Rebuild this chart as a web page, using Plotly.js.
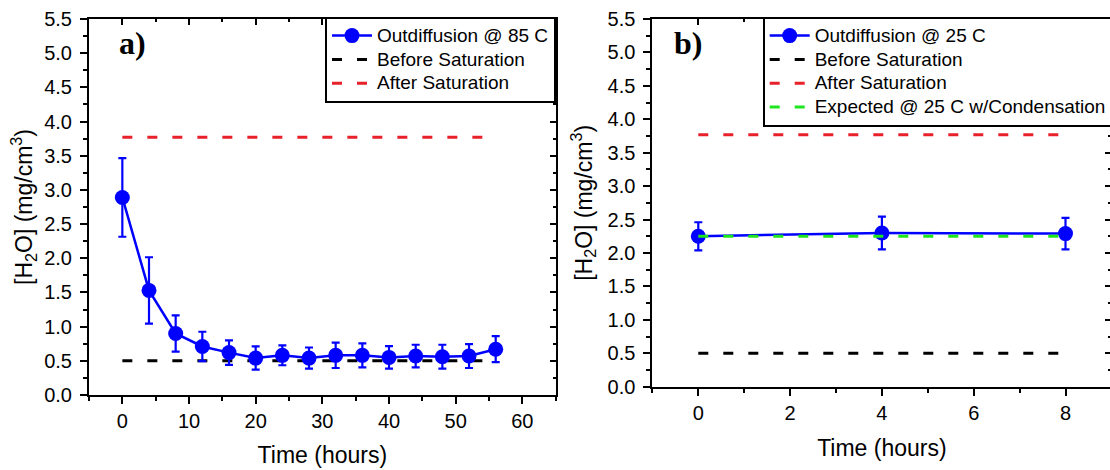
<!DOCTYPE html>
<html><head><meta charset="utf-8">
<script src="https://cdn.plot.ly/plotly-3.0.1.min.js"></script>
<style>html,body{margin:0;padding:0;overflow:hidden;background:#fff}#chart{width:1114px;height:470px}</style>
</head><body><div id="chart"></div>
<script>
// ---- data (panel a: outdiffusion at 85 C) ----
const timeA = [0, 4, 8, 12, 16, 20, 24, 28, 32, 36, 40, 44, 48, 52, 56];
const h2oA  = [2.89, 1.53, 0.90, 0.71, 0.62, 0.54, 0.58, 0.54, 0.58, 0.58, 0.55, 0.57, 0.56, 0.57, 0.67];
const errA  = [0.575, 0.485, 0.265, 0.215, 0.18, 0.17, 0.145, 0.155, 0.185, 0.175, 0.165, 0.165, 0.175, 0.175, 0.19];
const refTimeA = [0, 56];
// ---- data (panel b: outdiffusion at 25 C) ----
const timeB = [0, 4, 8];
const h2oB  = [2.25, 2.30, 2.29];
const errB  = [0.21, 0.245, 0.235];
const refTimeB = [0, 8];
// ---- reference levels ----
const beforeSat = [0.5, 0.5];
const afterSat  = [3.77, 3.77];
const expected25 = [2.25, 2.25];
const labelsA = {main: 'Outdiffusion @ 85 C', before: 'Before Saturation', after: 'After Saturation'};
const labelsB = {main: 'Outdiffusion @ 25 C', before: 'Before Saturation', after: 'After Saturation', exp: 'Expected @ 25 C w/Condensation'};
const yTitle = '[H<sub>2</sub>O] (mg/cm<sup>3</sup>)';
const xTitle = 'Time (hours)';

const W = 1114, H = 470;
const px = v => v / W, py = v => 1 - v / H;
const FONT = '"Liberation Sans", Arial, sans-serif';
const BLUE = '#0000ff', RED = '#e8202a', GREEN = '#1ee61e';
const DASH = '10px,15px';
const legName = s => '<span style="font-size:19px">' + s + '</span>';

function dashTrace(x, y, color, name, xa, ya, leg, rank) {
  return {x: x, y: y, type: 'scatter', mode: 'lines', name: legName(name),
    line: {color: color, width: 3, dash: DASH}, xaxis: xa, yaxis: ya, legend: leg, legendrank: rank,
    hoverinfo: 'skip'};
}
function mainTrace(x, y, e, name, xa, ya, leg) {
  return {x: x, y: y, type: 'scatter', mode: 'lines+markers', name: legName(name),
    line: {color: BLUE, width: 2.5}, marker: {color: BLUE, size: 15, symbol: 'circle'},
    error_y: {type: 'data', array: e, visible: true, color: BLUE, thickness: 2.2, width: 4},
    xaxis: xa, yaxis: ya, legend: leg, legendrank: 1};
}
const dummy = (xa, ya) => ({x: [null], y: [null], type: 'scatter', mode: 'markers', showlegend: false, xaxis: xa, yaxis: ya, hoverinfo: 'skip'});

const traces = [
  dashTrace(refTimeA, beforeSat, '#000000', labelsA.before, 'x', 'y', 'legend', 2),
  dashTrace(refTimeA, afterSat, RED, labelsA.after, 'x', 'y', 'legend', 3),
  mainTrace(timeA, h2oA, errA, labelsA.main, 'x', 'y', 'legend'),
  mainTrace(timeB, h2oB, errB, labelsB.main, 'x2', 'y2', 'legend2'),
  dashTrace(refTimeB, beforeSat, '#000000', labelsB.before, 'x2', 'y2', 'legend2', 2),
  dashTrace(refTimeB, afterSat, RED, labelsB.after, 'x2', 'y2', 'legend2', 3),
  dashTrace(refTimeB, expected25, GREEN, labelsB.exp, 'x2', 'y2', 'legend2', 4),
  dummy('x3', 'y3'), dummy('x4', 'y4')
];

const tickFont = {family: FONT, size: 20, color: '#000'};
const titleFont = {family: FONT, size: 23, color: '#000'};
function xAxis(dom, range, dtick, anchor, standoff) {
  return {domain: dom, range: range, anchor: anchor, dtick: dtick, tick0: 0,
    ticks: 'outside', ticklen: 7, tickwidth: 2, tickcolor: '#000',
    minor: {dtick: dtick / 2, ticks: 'outside', ticklen: 4, tickwidth: 2, tickcolor: '#000'},
    showline: true, linewidth: 2, linecolor: '#000', showgrid: false, zeroline: false,
    tickfont: tickFont, title: {text: xTitle, font: titleFont, standoff: standoff}};
}
function yAxis(dom, anchor, standoff) {
  return {domain: dom, range: [0, 5.5], anchor: anchor, dtick: 0.5, tick0: 0, tickformat: '.1f',
    ticks: 'outside', ticklen: 7, tickwidth: 2, tickcolor: '#000', ticklabelstandoff: 4,
    minor: {dtick: 0.25, ticks: 'outside', ticklen: 4, tickwidth: 2, tickcolor: '#000'},
    showline: true, linewidth: 2, linecolor: '#000', showgrid: false, zeroline: false,
    tickfont: tickFont, title: {text: yTitle, font: titleFont, standoff: standoff}};
}
function xTop(over, range, dtick, anchor) {
  return {overlaying: over, side: 'top', anchor: anchor, range: range, dtick: dtick, tick0: 0,
    ticks: 'inside', ticklen: 6, tickwidth: 2, tickcolor: '#000', showticklabels: false,
    minor: {dtick: dtick / 2, ticks: 'inside', ticklen: 3, tickwidth: 2, tickcolor: '#000'},
    showline: true, linewidth: 2, linecolor: '#000', showgrid: false, zeroline: false};
}
function yRight(over, anchor) {
  return {overlaying: over, side: 'right', anchor: anchor, range: [0, 5.5], dtick: 0.5, tick0: 0,
    ticks: 'inside', ticklen: 6, tickwidth: 2, tickcolor: '#000', showticklabels: false,
    minor: {dtick: 0.25, ticks: 'inside', ticklen: 3, tickwidth: 2, tickcolor: '#000'},
    showline: true, linewidth: 2, linecolor: '#000', showgrid: false, zeroline: false};
}

const rangeA = [-5, 65], rangeB = [-1, 9];
const legFont = {family: FONT, size: 16, color: '#000'};
const layout = {
  width: W, height: H, margin: {l: 0, r: 0, t: 0, b: 0},
  paper_bgcolor: '#fff', plot_bgcolor: 'rgba(0,0,0,0)', showlegend: true,
  font: {family: FONT, color: '#000'},
  xaxis: xAxis([px(89), px(555.7)], rangeA, 10, 'y', 16),
  yaxis: yAxis([py(395), py(19)], 'x', 5),
  xaxis2: xAxis([px(652.4), px(1111.4)], rangeB, 2, 'y2', 17),
  yaxis2: yAxis([py(386.7), py(19)], 'x2', 9),
  xaxis3: xTop('x', rangeA, 10, 'y'),
  yaxis3: yRight('y', 'x'),
  xaxis4: xTop('x2', rangeB, 2, 'y2'),
  yaxis4: yRight('y2', 'x2'),
  legend: {x: px(325), y: py(16.7), xanchor: 'left', yanchor: 'top', bgcolor: '#fff',
    bordercolor: '#000', borderwidth: 2, font: legFont, itemwidth: 40, traceorder: 'normal'},
  legend2: {x: px(762.7), y: py(16.7), xanchor: 'left', yanchor: 'top', bgcolor: '#fff',
    bordercolor: '#000', borderwidth: 2, font: legFont, itemwidth: 40, traceorder: 'normal'},
  annotations: [
    {text: '<b>a)</b>', xref: 'paper', yref: 'paper', x: px(117), y: py(43), xanchor: 'left', yanchor: 'middle',
     showarrow: false, font: {family: '"Liberation Serif", "Times New Roman", serif', size: 32, color: '#000'}},
    {text: '<b>b)</b>', xref: 'paper', yref: 'paper', x: px(672), y: py(43), xanchor: 'left', yanchor: 'middle',
     showarrow: false, font: {family: '"Liberation Serif", "Times New Roman", serif', size: 32, color: '#000'}}
  ]
};
Plotly.newPlot('chart', traces, layout, {displayModeBar: false, staticPlot: true});
</script>
</body></html>
